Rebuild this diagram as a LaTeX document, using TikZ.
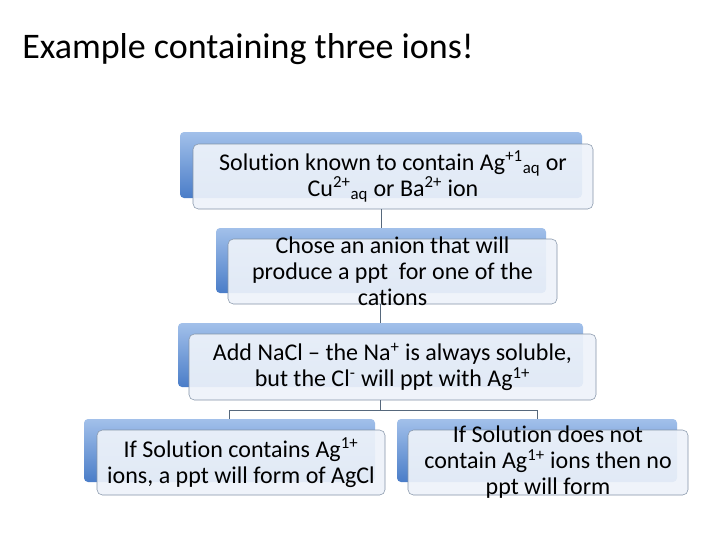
\documentclass[tikz,border=0pt]{standalone}
\usepackage{fontspec}
\setmainfont[Ligatures={TeX,NoCommon}]{Carlito}
\definecolor{backtop}{HTML}{A2C0EA}
\definecolor{backbot}{HTML}{4A7DC8}
\definecolor{frontfill}{HTML}{EEF3FA}
\definecolor{frontline}{HTML}{8494A8}
\definecolor{linkcol}{HTML}{56687C}
\tikzset{
  backbox/.style={rectangle,rounded corners=3pt,top color=backtop,bottom color=backbot,inner sep=0pt},
  frontbox/.style={rectangle,rounded corners=4pt,draw=frontline,fill=frontfill,fill opacity=0.92,inner sep=0pt},
  boxtext/.style={align=center,font=\fontsize{18}{19.5}\selectfont},
  link/.style={draw=linkcol,line width=0.6pt}
}
\begin{document}
\begin{tikzpicture}[x=0.75pt,y=-0.75pt]
        \useasboundingbox[fill=white](0,0)rectangle(720,540);
        \node[anchor=base west,font=\fontsize{27}{32}\selectfont,inner sep=0pt](title)at(22,58){Example containing three ions!};
        % first box
        \node[backbox,minimum width=301.5pt,minimum height=49.5pt](b1)at(381,165){};
        \node[frontbox,minimum width=300pt,minimum height=48.75pt](f1)at(393,176.5){};
        \node[boxtext](t1)at(f1){Solution known to contain Ag\textsuperscript{+1}\textsubscript{aq} or\\Cu\textsuperscript{2+}\textsubscript{aq} or Ba\textsuperscript{2+} ion};
        % second box
        \node[backbox,minimum width=247.5pt,minimum height=48.75pt](b2)at(381,260.5){};
        \node[frontbox,minimum width=246.75pt,minimum height=48.75pt](f2)at(392.5,271.5){};
        \node[boxtext](t2)at(f2){Chose an anion that will\\produce a ppt\ \ for one of the\\cations};
        % third box
        \node[backbox,minimum width=303.75pt,minimum height=48pt](b3)at(380.5,355){};
        \node[frontbox,minimum width=305.25pt,minimum height=49.5pt](f3)at(392.5,367){};
        \node[boxtext](t3)at(f3){Add NaCl -- the Na\textsuperscript{+} is always soluble,\\but the Cl\textsuperscript{-} will ppt with Ag\textsuperscript{1+}};
        % the two outcomes
        \node[backbox,minimum width=218.25pt,minimum height=47.25pt](b4)at(229.5,450.5){};
        \node[frontbox,minimum width=216pt,minimum height=48.75pt](f4)at(241,462.5){};
        \node[boxtext](t4)at(f4){If Solution contains Ag\textsuperscript{1+}\\ions, a ppt will form of AgCl};
        \node[backbox,minimum width=210pt,minimum height=47.25pt](b5)at(537,450.5){};
        \node[frontbox,minimum width=210pt,minimum height=48.75pt](f5)at(548,462.5){};
        \node[boxtext](t5)at(f5){If Solution does not\\contain Ag\textsuperscript{1+} ions then no\\ppt will form};
        % connectors
        \draw[link](b2.north |- f1.south)--(b2.north);
        \draw[link](b3.north |- f2.south)--(b3.north);
        \draw[link](b3.center |- f3.south)--++(0,10)-|(b4.north);
        \draw[link](b3.center |- f3.south)--++(0,10)-|(b5.north);
\end{tikzpicture}
\end{document}
